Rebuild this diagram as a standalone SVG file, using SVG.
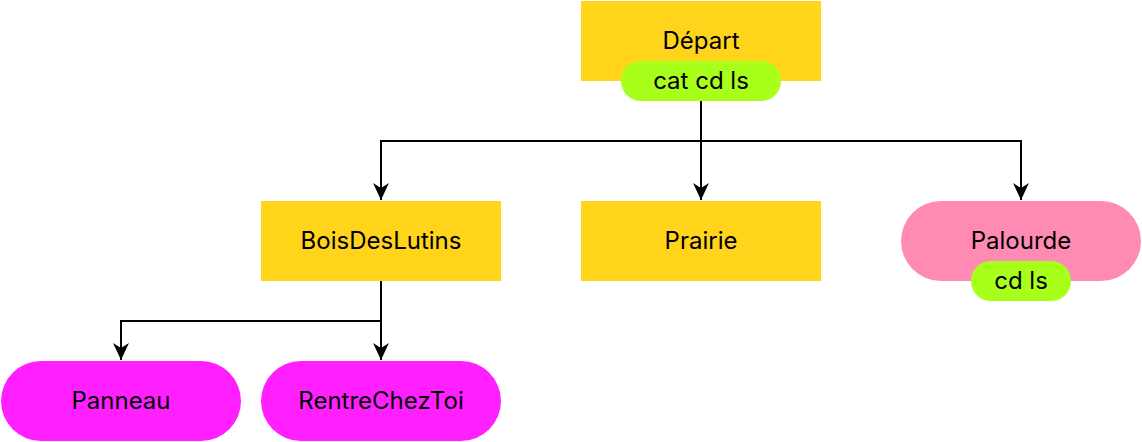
<svg xmlns="http://www.w3.org/2000/svg" width="1142" height="442" viewBox="0 0 1142 442">
<style>
.t{font-family:Inter,"Noto Sans",sans-serif;font-size:24px;fill:#000;text-anchor:middle;dominant-baseline:central}
.y{fill:#FFD41A}
.g{fill:#A8FF1A}
.p{fill:#FF8AB4}
.m{fill:#FF1FFF}
.c{fill:none;stroke:#000;stroke-width:2}
</style>
<defs>
<marker id="a" viewBox="0 0 18 18" refX="17" refY="9" markerWidth="18" markerHeight="18" markerUnits="userSpaceOnUse" orient="auto">
<path d="M0,1 L17,9 L0,17 L5,9 Z" fill="#000"/>
</marker>
</defs>
<g id="connectors">
<path class="c" d="M701,101 V141 H381 V200" marker-end="url(#a)"/>
<path class="c" d="M701,141 V200" marker-end="url(#a)"/>
<path class="c" d="M701,141 H1021 V200" marker-end="url(#a)"/>
<path class="c" d="M381,281 V321 H121 V360" marker-end="url(#a)"/>
<path class="c" d="M381,321 V360" marker-end="url(#a)"/>
</g>
<g id="depart">
<rect class="y" x="581" y="1" width="240" height="80"/>
<text class="t" x="701" y="40">Départ</text>
<rect class="g" x="621" y="61" width="160" height="40" rx="20"/>
<text class="t" x="701" y="80">cat cd ls</text>
</g>
<g id="bois">
<rect class="y" x="261" y="201" width="240" height="80"/>
<text class="t" x="381" y="240">BoisDesLutins</text>
</g>
<g id="prairie">
<rect class="y" x="581" y="201" width="240" height="80"/>
<text class="t" x="701" y="240">Prairie</text>
</g>
<g id="palourde">
<rect class="p" x="901" y="201" width="240" height="80" rx="40"/>
<text class="t" x="1021" y="240">Palourde</text>
<rect class="g" x="971" y="261" width="100" height="40" rx="20"/>
<text class="t" x="1021" y="280">cd ls</text>
</g>
<g id="panneau">
<rect class="m" x="1" y="361" width="240" height="80" rx="40"/>
<text class="t" x="121" y="400">Panneau</text>
</g>
<g id="rentre">
<rect class="m" x="261" y="361" width="240" height="80" rx="40"/>
<text class="t" x="381" y="400">RentreChezToi</text>
</g>
</svg>
